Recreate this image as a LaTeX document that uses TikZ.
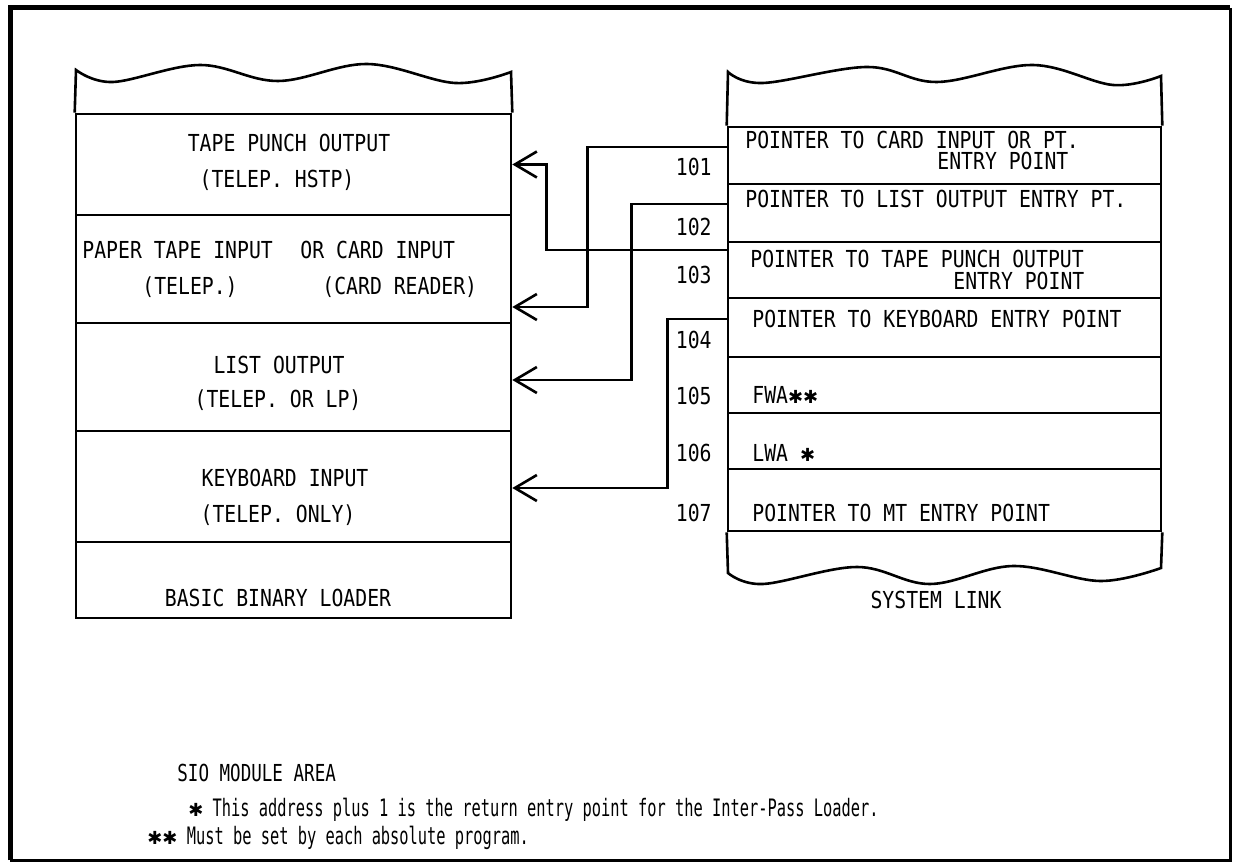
\documentclass[tikz,border=0pt]{standalone}
\usepackage{fontspec}
\setmainfont[FakeStretch=0.845]{DejaVu Sans Mono}
\newfontfamily\starfont{DejaVu Sans}
\usetikzlibrary{arrows.meta}
\newcommand{\st}{{\starfont\fontsize{9}{10}\selectfont ✱}}

\begin{document}
\begin{tikzpicture}[
  x=0.5pt, y=-0.5pt,
  font=\fontsize{11.7}{14}\selectfont,
  edge/.style={line width=1.3pt},
  slot/.style={draw, line width=1.3pt, inner sep=0pt, minimum width=217.5pt},
  rslot/.style={draw, line width=1.3pt, inner sep=0pt, minimum width=216.5pt},
  txt/.style={inner sep=0pt},
  lbl/.style={inner sep=0pt, anchor=west},
  addr/.style={inner sep=0pt, anchor=east},
  note/.style={inner sep=0pt, anchor=west, font=\fontsize{12}{14}\addfontfeatures{FakeStretch=0.64}\selectfont},
  ptr/.style={line width=1.3pt, -{Straight Barb[length=11pt, width=13pt]}}
]
\useasboundingbox (0,0) rectangle (1234,865);
% outer frame
\draw[line width=2.5pt] (10,860) -- (10,8) -- (1230,8);
\draw[line width=1.5pt] (1230,8) -- (1230,860) -- (10,860);

% SIO module area
\node[slot, minimum height=50.5pt] (tpo) at (293.5,164.5) {};
\node[slot, minimum height=54pt] (ptin) at (293.5,269) {};
\node[slot, minimum height=54pt] (lout) at (293.5,377) {};
\node[slot, minimum height=55.5pt] (kbin) at (293.5,486.5) {};
\node[slot, minimum height=38pt] (bbl) at (293.5,580) {};
\draw[edge] (tpo.north west) -- plot[smooth, tension=0.6] coordinates {(76,70) (113,82) (200,65) (278,81) (367,64) (455,83) (511,72)} -- (tpo.north east);

\node[txt] (tpo1) at (289,143) {TAPE PUNCH OUTPUT};
\node[txt] (tpo2) at (277,180) {(TELEP. HSTP)};
\node[lbl] (ptin1) at (82,250) {PAPER TAPE INPUT};
\node[lbl] (ptin2) at (300,250) {OR CARD INPUT};
\node[lbl] (ptin3) at (142,287) {(TELEP.)};
\node[lbl] (ptin4) at (322,287) {(CARD READER)};
\node[txt] (lout1) at (279,365) {LIST OUTPUT};
\node[txt] (lout2) at (278,400) {(TELEP. OR LP)};
\node[txt] (kbin1) at (285,478) {KEYBOARD INPUT};
\node[txt] (kbin2) at (278,515) {(TELEP. ONLY)};
\node[txt] (bbl1) at (278,598) {BASIC BINARY LOADER};

% system link
\node[rslot, minimum height=28.5pt] (p101) at (944.5,155.5) {};
\node[rslot, minimum height=29pt] (p102) at (944.5,213) {};
\node[rslot, minimum height=28pt] (p103) at (944.5,270) {};
\node[rslot, minimum height=29.5pt] (p104) at (944.5,327.5) {};
\node[rslot, minimum height=28pt] (p105) at (944.5,385) {};
\node[rslot, minimum height=28pt] (p106) at (944.5,441) {};
\node[rslot, minimum height=31pt] (p107) at (944.5,500) {};
\draw[edge] (p101.north west) -- plot[smooth, tension=0.6] coordinates {(728,72) (763,83) (867,67) (937,82) (1033,65) (1113,85) (1161,76)} -- (p101.north east);
\draw[edge] (p107.south west) -- plot[smooth, tension=0.6] coordinates {(728,573) (763,584) (857,567) (930,584) (1013,566) (1100,581) (1161,568)} -- (p107.south east);

\node[lbl] (p101a) at (745,140) {POINTER TO CARD INPUT OR PT.};
\node[lbl] (p101b) at (937,161) {ENTRY POINT};
\node[lbl] (p102a) at (745,199) {POINTER TO LIST OUTPUT ENTRY PT.};
\node[lbl] (p103a) at (750,259) {POINTER TO TAPE PUNCH OUTPUT};
\node[lbl] (p103b) at (953,281) {ENTRY POINT};
\node[lbl] (p104a) at (752,319) {POINTER TO KEYBOARD ENTRY POINT};
\node[lbl] (p105a) at (752,395) {FWA\st\st};
\node[lbl] (p106a) at (752,453) {LWA \st};
\node[lbl] (p107a) at (752,513) {POINTER TO MT ENTRY POINT};

\node[addr] (a101) at (712,167) {101};
\node[addr] (a102) at (712,227) {102};
\node[addr] (a103) at (712,275) {103};
\node[addr] (a104) at (712,340) {104};
\node[addr] (a105) at (712,396) {105};
\node[addr] (a106) at (712,453) {106};
\node[addr] (a107) at (712,513) {107};

\node[txt] (syslink) at (936,600) {SYSTEM LINK};

% pointers
\draw[ptr] ([yshift=4.25pt]p101.west) -- ++(-139,0) |- ([yshift=-19pt]ptin.east);
\draw[ptr] ([yshift=4.5pt]p102.west) -- ++(-95,0) |- ([yshift=-1.5pt]lout.east);
\draw[ptr] ([yshift=10pt]p103.west) -- ++(-180,0) |- (tpo.east);
\draw[ptr] ([yshift=4.25pt]p104.west) -- ++(-59,0) |- ([yshift=-0.75pt]kbin.east);

% notes
\node[note, font=\fontsize{11.7}{14}\addfontfeatures{FakeStretch=0.75}\selectfont] (area) at (177,773) {SIO MODULE AREA};
\node[note] (note1) at (188,810) {\st{} This address plus 1 is the return entry point for the Inter-Pass Loader.};
\node[note] (note2) at (147,838) {\st\st{} Must be set by each absolute program.};
\end{tikzpicture}
\end{document}
